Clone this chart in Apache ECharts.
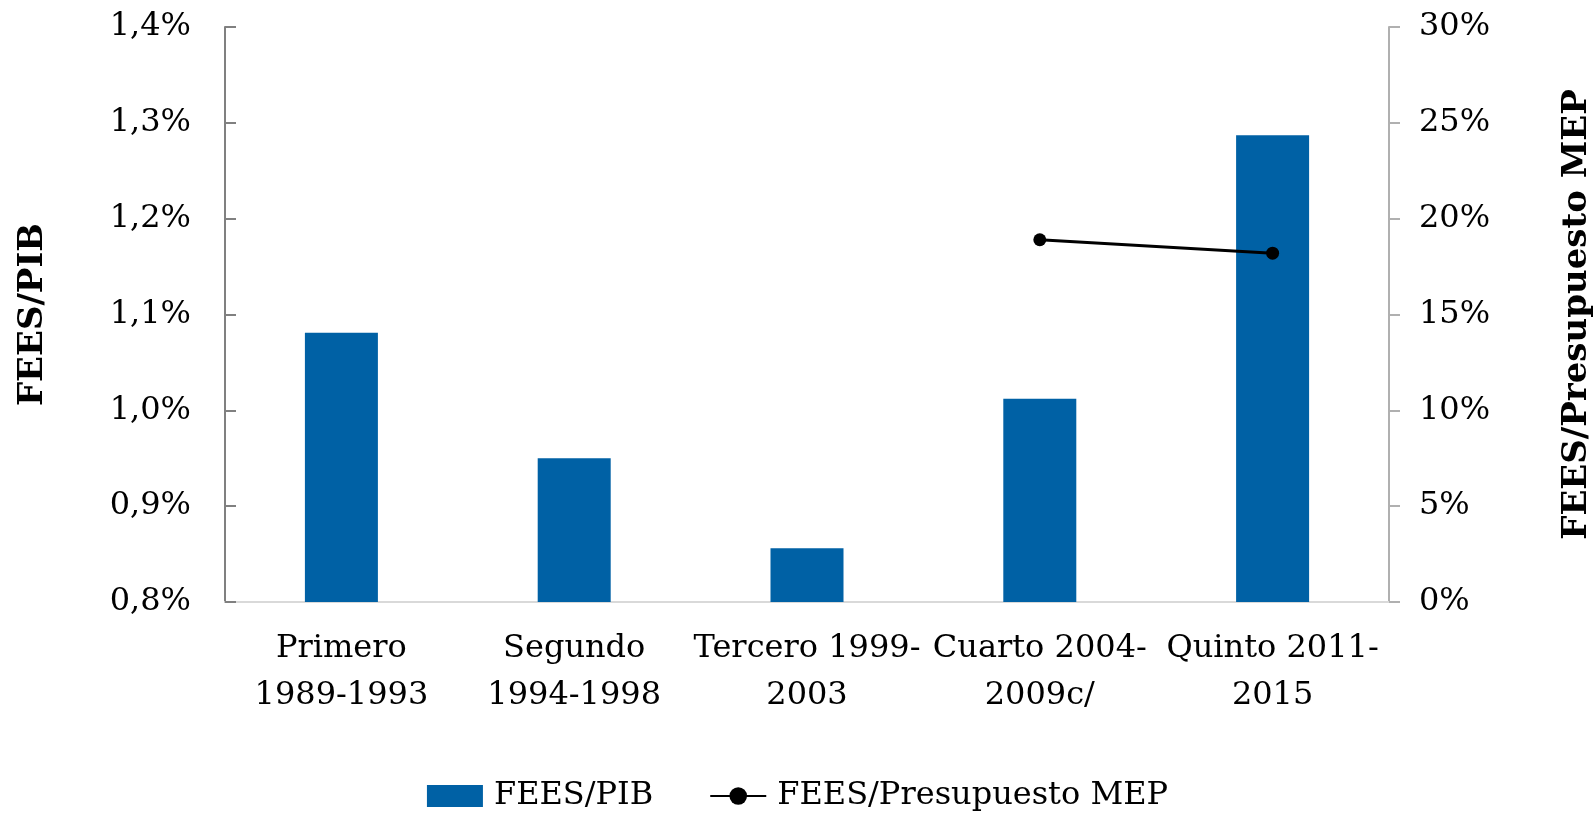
<!DOCTYPE html>
<html>
<head>
<meta charset="utf-8">
<script src="https://cdn.jsdelivr.net/npm/echarts@6/dist/echarts.min.js"></script>
<style>
html,body{margin:0;padding:0;background:#fff;}
#chart{width:1595px;height:815px;}
</style>
</head>
<body>
<div id="chart"></div>
<script>
var categories = ['Primero\n1989-1993', 'Segundo\n1994-1998', 'Tercero 1999-\n2003', 'Cuarto 2004-\n2009c/', 'Quinto 2011-\n2015'];
var feesPib = [1.081, 0.950, 0.856, 1.012, 1.287];
var feesMep = [null, null, null, 18.9, 18.2];
var leftTicks = { min: 0.8, max: 1.4, interval: 0.1 };
var rightTicks = { min: 0, max: 30, interval: 5 };

var serif = "'DejaVu Serif', Georgia, serif";
var chart = echarts.init(document.getElementById('chart'));

var option = {
	animation: false,
	textStyle: { fontFamily: serif, color: '#000' },
	grid: { left: 225, right: 206, top: 27, bottom: 213, containLabel: false, outerBoundsMode: 'none' },
	legend: {
		top: 780,
		left: 'center',
		padding: 0,
		itemWidth: 56,
		itemHeight: 22,
		itemGap: 56,
		textStyle: { fontFamily: serif, fontSize: 32, color: '#000', padding: [0, 0, 0, 6] },
		data: [
			{ name: 'FEES/PIB', icon: 'rect' },
			{ name: 'FEES/Presupuesto MEP' }
		]
	},
	xAxis: {
		type: 'category',
		data: categories,
		axisLine: { lineStyle: { color: '#d9d9d9', width: 2 } },
		axisTick: { show: false },
		axisLabel: { interval: 0, fontSize: 32, lineHeight: 47, margin: 23, color: '#000', fontFamily: serif }
	},
	yAxis: [
		{
			type: 'value',
			min: leftTicks.min,
			max: leftTicks.max,
			interval: leftTicks.interval,
			name: 'FEES/PIB',
			nameLocation: 'middle',
			nameRotate: 90,
			nameGap: 175,
			nameTextStyle: { fontSize: 34, fontWeight: 'bold', fontFamily: serif, color: '#000' },
			axisLine: { show: true, lineStyle: { color: '#808080', width: 2 } },
			axisTick: { show: true, inside: true, length: 11, lineStyle: { color: '#808080', width: 2 } },
			splitLine: { show: false },
			axisLabel: {
				fontSize: 32, margin: 34, color: '#000', fontFamily: serif,
				formatter: function (v) { return v.toFixed(1).replace('.', ',') + '%'; }
			}
		},
		{
			type: 'value',
			min: rightTicks.min,
			max: rightTicks.max,
			interval: rightTicks.interval,
			position: 'right',
			name: 'FEES/Presupuesto MEP',
			nameLocation: 'middle',
			nameRotate: 90,
			nameGap: 171,
			nameTextStyle: { fontSize: 34, fontWeight: 'bold', fontFamily: serif, color: '#000' },
			axisLine: { show: true, lineStyle: { color: '#b0b0b0', width: 2 } },
			axisTick: { show: true, length: 11, lineStyle: { color: '#b0b0b0', width: 2 } },
			splitLine: { show: false },
			axisLabel: {
				fontSize: 32, margin: 30, color: '#000', fontFamily: serif,
				formatter: function (v) { return v + '%'; }
			}
		}
	],
	series: [
		{
			name: 'FEES/PIB',
			type: 'bar',
			yAxisIndex: 0,
			barWidth: 73,
			itemStyle: { color: '#0061a5' },
			data: feesPib
		},
		{
			name: 'FEES/Presupuesto MEP',
			type: 'line',
			yAxisIndex: 1,
			symbol: 'circle',
			symbolSize: 13,
			lineStyle: { color: '#000', width: 3 },
			itemStyle: { color: '#000' },
			data: feesMep
		}
	]
};

chart.setOption(option);
</script>
</body>
</html>
